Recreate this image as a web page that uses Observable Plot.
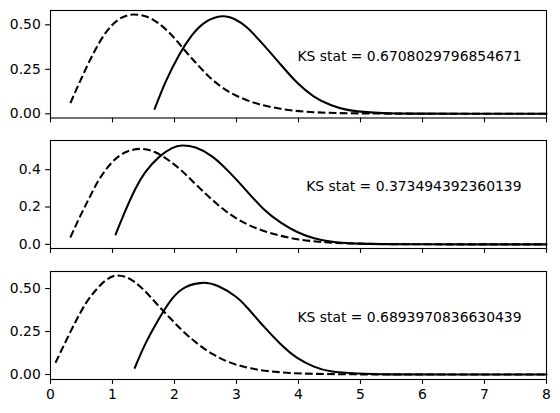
<!DOCTYPE html>
<html>
<head>
<meta charset="utf-8">
<script src="https://cdn.jsdelivr.net/npm/d3@7"></script>
<script src="https://cdn.jsdelivr.net/npm/@observablehq/plot@0.6"></script>
<style>
  body { margin: 0; background: white; }
  #chart svg { display: block; }
</style>
</head>
<body>
<div id="chart"></div>
<script>
const xTicks = [0, 1, 2, 3, 4, 5, 6, 7, 8];
const yTicksA = [0, 0.25, 0.5];
const yTicksB = [0, 0.2, 0.4];
const ksStats = ["0.6708029796854671", "0.373494392360139", "0.6893970836630439"];

// Panel 1
const dashed1X = [0.32, 0.5, 0.7, 0.9, 1.1, 1.34, 1.53, 1.75, 1.96, 2.12, 2.34, 2.61, 2.88, 3.15, 3.71, 4.25, 5.05, 6, 7, 8];
const dashed1Y = [0.060, 0.2, 0.345, 0.46, 0.53, 0.558, 0.548, 0.506, 0.44, 0.375, 0.288, 0.192, 0.123, 0.079, 0.028, 0.009, 0.002, 0.0005, 0, 0];
const solid1X = [1.68, 1.855, 2.07, 2.28, 2.5, 2.77, 2.98, 3.17, 3.44, 3.71, 3.98, 4.25, 4.52, 4.79, 5.16, 5.59, 6, 7, 8];
const solid1Y = [0.028, 0.178, 0.328, 0.44, 0.515, 0.548, 0.530, 0.485, 0.386, 0.278, 0.174, 0.097, 0.049, 0.022, 0.008, 0.002, 0.001, 0, 0];

// Panel 2
const dashed2X = [0.32, 0.46, 0.62, 0.78, 0.995, 1.21, 1.45, 1.69, 1.91, 2.12, 2.34, 2.61, 2.88, 3.17, 3.44, 3.71, 3.98, 4.41, 4.95, 6, 7, 8];
const dashed2Y = [0.037, 0.138, 0.245, 0.345, 0.44, 0.493, 0.511, 0.493, 0.449, 0.393, 0.322, 0.238, 0.165, 0.108, 0.072, 0.046, 0.028, 0.012, 0.004, 0.0005, 0, 0];
const solid2X = [1.05, 1.21, 1.37, 1.53, 1.75, 1.96, 2.12, 2.34, 2.61, 2.88, 3.17, 3.44, 3.71, 3.98, 4.25, 4.52, 4.95, 6, 7, 8];
const solid2Y = [0.053, 0.182, 0.298, 0.387, 0.467, 0.515, 0.529, 0.518, 0.47, 0.388, 0.284, 0.188, 0.118, 0.066, 0.033, 0.015, 0.004, 0.0005, 0, 0];

// Panel 3
const dashed3X = [0.08, 0.24, 0.40, 0.565, 0.73, 0.89, 1.075, 1.26, 1.48, 1.69, 1.91, 2.12, 2.34, 2.61, 2.88, 3.23, 3.71, 4.25, 5, 6, 8];
const dashed3Y = [0.068, 0.188, 0.304, 0.411, 0.49, 0.547, 0.576, 0.56, 0.5, 0.42, 0.335, 0.258, 0.188, 0.12, 0.072, 0.036, 0.013, 0.004, 0.001, 0, 0];
const solid3X = [1.36, 1.53, 1.75, 1.96, 2.18, 2.45, 2.71, 2.98, 3.17, 3.44, 3.71, 3.98, 4.25, 4.52, 4.95, 5.5, 6.5, 8];
const solid3Y = [0.039, 0.178, 0.324, 0.44, 0.508, 0.533, 0.513, 0.455, 0.39, 0.28, 0.178, 0.097, 0.046, 0.019, 0.006, 0.001, 0, 0];

const zip = (xs, ys) => xs.map((x, i) => ({x, y: ys[i]}));

const panels = [
  {dashed: zip(dashed1X, dashed1Y), solid: zip(solid1X, solid1Y), yDomain: [-0.0236, 0.5803], yTicks: yTicksA, fmt: d3.format(".2f"), showX: false, height: 129, mt: 10, mb: 11.5, ks: ksStats[0]},
  {dashed: zip(dashed2X, dashed2Y), solid: zip(solid2X, solid2Y), yDomain: [-0.022, 0.556], yTicks: yTicksB, fmt: d3.format(".1f"), showX: false, height: 130, mt: 11, mb: 11, ks: ksStats[1]},
  {dashed: zip(dashed3X, dashed3Y), solid: zip(solid3X, solid3Y), yDomain: [-0.029, 0.599], yTicks: yTicksA, fmt: d3.format(".2f"), showX: true, height: 154, mt: 12, mb: 34, ks: ksStats[2]}
];

const container = document.getElementById("chart");
for (const p of panels) {
  const chart = Plot.plot({
    width: 560,
    height: p.height,
    marginLeft: 50,
    marginRight: 14,
    marginTop: p.mt,
    marginBottom: p.mb,
    x: {domain: [0, 8]},
    y: {domain: p.yDomain},
    style: {fontFamily: "DejaVu Sans", fontSize: "13.9px", color: "black", background: "white", overflow: "visible"},
    marks: [
      Plot.line(p.dashed, {x: "x", y: "y", stroke: "black", strokeWidth: 2.08, strokeDasharray: "7.7,3.33", strokeLinecap: "butt", curve: "monotone-x"}),
      Plot.line(p.solid, {x: "x", y: "y", stroke: "black", strokeWidth: 2.08, curve: "natural"}),
      Plot.frame({stroke: "black", strokeWidth: 1.11}),
      Plot.axisX({ticks: xTicks, tickSize: 4.86, tickPadding: 4.86, strokeWidth: 1.11, label: null, tickFormat: p.showX ? (d => String(d)) : (() => "")}),
      Plot.axisY({ticks: p.yTicks, tickSize: 4.86, tickPadding: 4.86, strokeWidth: 1.11, label: null, tickFormat: p.fmt}),
      Plot.text([`KS stat = ${p.ks}`], {frameAnchor: "right", dx: -25, dy: -7.5, textAnchor: "end", fontSize: 13.9, fill: "black"})
    ]
  });
  container.appendChild(chart);
}
</script>
</body>
</html>
